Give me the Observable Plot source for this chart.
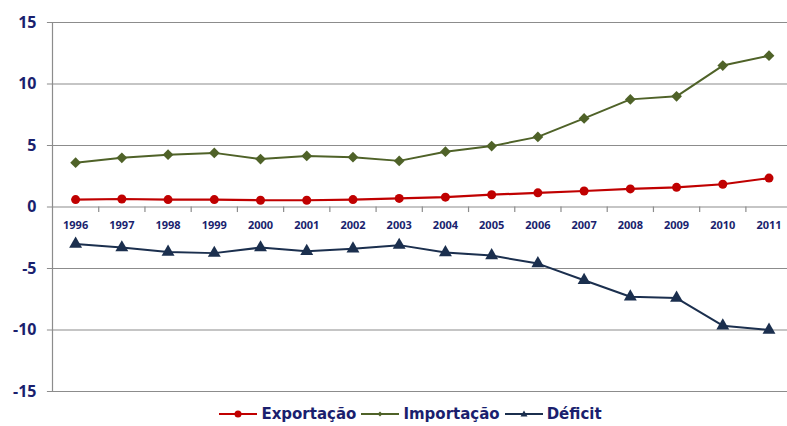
<!DOCTYPE html>
<html><head><meta charset="utf-8">
<script src="https://cdn.jsdelivr.net/npm/d3@7"></script>
<script src="https://cdn.jsdelivr.net/npm/@observablehq/plot@0.6"></script>
<style>
body{margin:0;background:#fff;overflow:hidden;font-family:"DejaVu Sans",Verdana,sans-serif;}
#legend{height:20px;line-height:20px;display:flex;justify-content:center;align-items:center;gap:4px;margin-left:33px;font-weight:bold;font-size:15px;color:#1a1f6e;}
#legend span.item{display:flex;align-items:center;gap:3px;}
</style></head><body>
<div id="chart"></div>
<div id="legend"></div>
<script>
const years = [1996,1997,1998,1999,2000,2001,2002,2003,2004,2005,2006,2007,2008,2009,2010,2011];
const exportacao = [0.6,0.65,0.6,0.6,0.55,0.55,0.6,0.7,0.8,1.0,1.15,1.3,1.47,1.6,1.85,2.35];
const importacao = [3.6,4.0,4.25,4.4,3.9,4.15,4.05,3.75,4.5,4.95,5.7,7.2,8.75,9.0,11.5,12.3];
const deficit = [-3.0,-3.3,-3.65,-3.75,-3.3,-3.6,-3.4,-3.1,-3.7,-3.95,-4.6,-5.95,-7.3,-7.4,-9.65,-10.0];
const yTicks = [-15,-10,-5,0,5,10,15];
const seriesNames = ["Exportação","Importação","Déficit"];
const colors = ["#c00000","#4f6228","#1b2f4e"];
const textColor = "#1a1f6e";

const rows = s => years.map((yr,i)=>({year:yr, v:s[i]}));
const ex = rows(exportacao), im = rows(importacao), de = rows(deficit);
const boundaries = years.map(y=>y-0.5);

const squareDiamond = {
  draw(context, size) {
    const r = Math.sqrt(size / 2);
    context.moveTo(0, -r); context.lineTo(r, 0); context.lineTo(0, r); context.lineTo(-r, 0); context.closePath();
  }
};

const chart = Plot.plot({
  width: 787, height: 404,
  marginLeft: 52, marginRight: 0, marginTop: 22, marginBottom: 13,
  x: {type:"linear", domain:[1995.5, 2011.4], axis:null},
  y: {type:"linear", domain:[-15,15], axis:null},
  marks: [
    Plot.ruleY(yTicks, {x1:1995.39, x2:2011.4, stroke:"#8c8c8c", strokeWidth:1.2}),
    Plot.ruleX([1995.5], {y1:-15, y2:15, stroke:"#8c8c8c", strokeWidth:1.2}),
    Plot.ruleX(boundaries.slice(1), {y1:0, y2:-0.45, stroke:"#8c8c8c", strokeWidth:1.2}),
    Plot.text(yTicks, {x:1995.5, y:d=>d, text:d=>String(d), textAnchor:"end", dx:-16, fill:textColor, fontSize:16, fontWeight:"bold"}),
    Plot.text(years, {x:d=>d, y:0, text:d=>String(d), dy:18, fill:textColor, fontSize:11, fontWeight:"bold"}),
    Plot.line(ex, {x:"year", y:"v", stroke:colors[0], strokeWidth:2.2}),
    Plot.dot(ex, {x:"year", y:"v", fill:colors[0], r:4.5, symbol:"circle"}),
    Plot.line(im, {x:"year", y:"v", stroke:colors[1], strokeWidth:2}),
    Plot.dot(im, {x:"year", y:"v", fill:colors[1], r:4.3, symbol:squareDiamond}),
    Plot.line(de, {x:"year", y:"v", stroke:colors[2], strokeWidth:2}),
    Plot.dot(de, {x:"year", y:"v", fill:colors[2], r:4.8, symbol:"triangle"})
  ]
});
document.getElementById("chart").append(chart);

const leg = document.getElementById("legend");
const markers = [
  '<circle cx="20" cy="8" r="3.5" fill="COL"/>',
  '<path d="M20,5.5 L22.5,8 L20,10.5 L17.5,8 Z" fill="COL"/>',
  '<path d="M20,4.5 L23.5,10.5 L16.5,10.5 Z" fill="COL"/>'
];
seriesNames.forEach((name,i)=>{
  const s = document.createElement("span");
  s.className="item";
  s.innerHTML = `<svg width="40" height="16"><line x1="1" y1="8" x2="39" y2="8" stroke="${colors[i]}" stroke-width="2.2"/>${markers[i].replace("COL",colors[i])}</svg><span>${name}</span>`;
  leg.append(s);
});
</script>
</body></html>
